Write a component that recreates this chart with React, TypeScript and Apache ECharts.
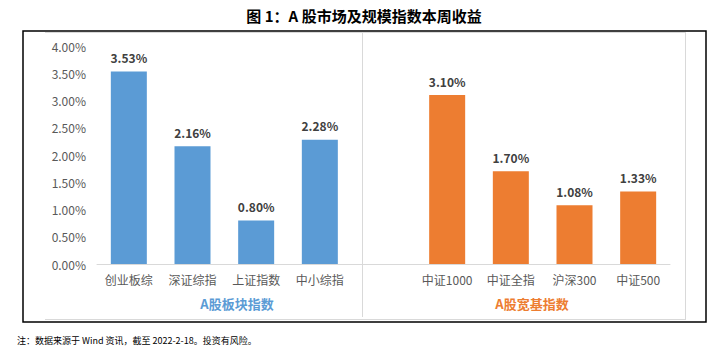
import React, { useEffect, useRef } from "react";
import * as echarts from "echarts";

const categories = ["创业板综", "深证综指", "上证指数", "中小综指", "", "中证1000", "中证全指", "沪深300", "中证500"];
const sectorValues = [3.53, 2.16, 0.8, 2.28, null, null, null, null, null];
const broadValues = [null, null, null, null, null, 3.1, 1.7, 1.08, 1.33];
const yTicks = { min: 0, max: 4, interval: 0.5 };
const titleText = "图 1：A 股市场及规模指数本周收益";
const groupLabels = ["A股板块指数", "A股宽基指数"];
const noteText = "注：数据来源于 Wind 资讯，截至 2022-2-18。投资有风险。";

const BLUE = "#5b9bd5";
const ORANGE = "#ed7d31";
const FONT = "'Noto Sans CJK SC', 'Noto Sans', sans-serif";

export default function App() {
  const ref = useRef<HTMLDivElement>(null);
  useEffect(() => {
    document.body.style.margin = "0";
    const chart = echarts.init(ref.current!, null, { renderer: "svg" });
    const label = {
      show: true,
      position: "top" as const,
      distance: 8,
      fontFamily: FONT,
      fontSize: 12,
      fontWeight: "bold" as const,
      color: "#404040",
      formatter: (p: any) => (p.value == null ? "" : Number(p.value).toFixed(2) + "%"),
    };
    chart.setOption({
      animation: false,
      grid: { left: 97, right: 55, top: 46, bottom: 88, containLabel: false },
      xAxis: {
        type: "category",
        data: categories,
        axisLine: { show: true, lineStyle: { color: "#d9d9d9", width: 1 } },
        axisTick: { show: false },
        axisLabel: { interval: 0, color: "#595959", fontFamily: FONT, fontSize: 12, margin: 9 },
      },
      yAxis: {
        type: "value",
        min: yTicks.min,
        max: yTicks.max,
        interval: yTicks.interval,
        splitLine: { show: false },
        axisLine: { show: false },
        axisTick: { show: false },
        axisLabel: {
          color: "#595959",
          fontFamily: FONT,
          fontSize: 12,
          margin: 11,
          formatter: (v: number) => v.toFixed(2) + "%",
        },
      },
      series: [
        { type: "bar", data: sectorValues, barWidth: 36, barGap: "-100%", itemStyle: { color: BLUE }, label },
        { type: "bar", data: broadValues, barWidth: 36, barGap: "-100%", itemStyle: { color: ORANGE }, label },
      ],
      graphic: [
        { type: "rect", shape: { x: 23, y: 31, width: 683, height: 291 }, style: { fill: "none", stroke: "#000", lineWidth: 1.5 }, silent: true },
        { type: "line", shape: { x1: 45, y1: 32.5, x2: 685, y2: 32.5 }, style: { stroke: "#d9d9d9", lineWidth: 1 } },
        { type: "line", shape: { x1: 45, y1: 319.5, x2: 685, y2: 319.5 }, style: { stroke: "#d9d9d9", lineWidth: 1 } },
        { type: "line", shape: { x1: 685.5, y1: 32, x2: 685.5, y2: 320 }, style: { stroke: "#d9d9d9", lineWidth: 1 } },
        { type: "line", shape: { x1: 362.5, y1: 33, x2: 362.5, y2: 317 }, style: { stroke: "#d9d9d9", lineWidth: 1 } },
        {
          type: "text", x: 364, y: 15,
          style: { text: titleText, fontFamily: FONT, fontSize: 15, fontWeight: "bold", fill: "#000", align: "center", verticalAlign: "middle" },
        },
        {
          type: "text", x: 237, y: 303,
          style: { text: groupLabels[0], fontFamily: FONT, fontSize: 13, fontWeight: "bold", fill: BLUE, align: "center", verticalAlign: "middle" },
        },
        {
          type: "text", x: 532, y: 303,
          style: { text: groupLabels[1], fontFamily: FONT, fontSize: 13, fontWeight: "bold", fill: ORANGE, align: "center", verticalAlign: "middle" },
        },
        {
          type: "text", x: 17, y: 340,
          style: { text: noteText, fontFamily: "'Noto Sans CJK SC', serif", fontSize: 9, fill: "#000", align: "left", verticalAlign: "middle" },
        },
      ],
    });
    return () => chart.dispose();
  }, []);
  return <div ref={ref} style={{ width: 725, height: 352, background: "#fff" }} />;
}
